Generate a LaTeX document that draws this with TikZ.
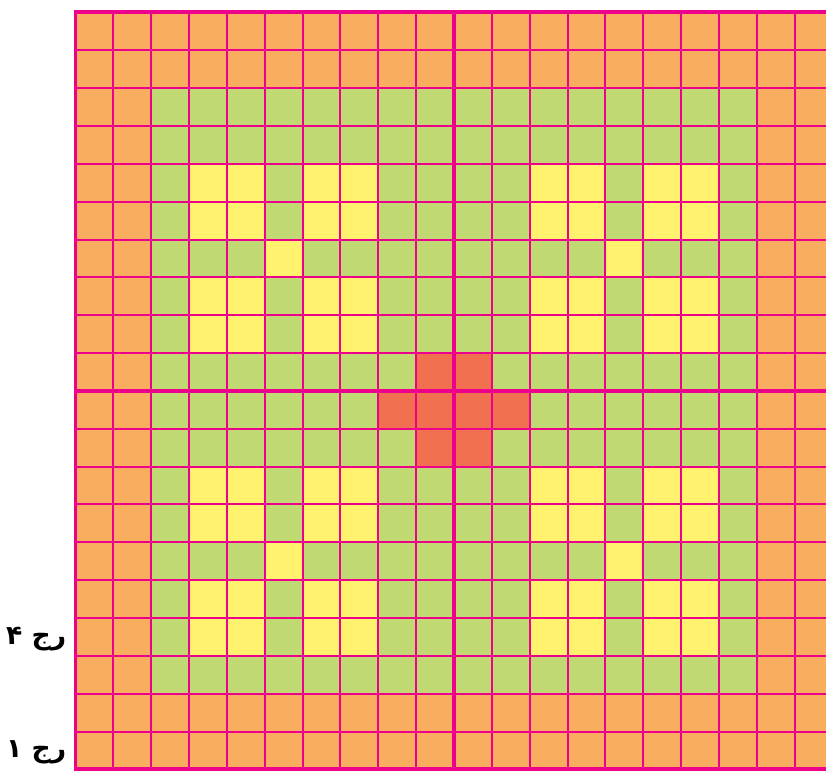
\documentclass[tikz,border=0pt]{standalone}
\usepackage{fontspec}
\newfontfamily\arabicfont[Script=Arabic]{DejaVu Sans}
\TeXXeTstate=1
\usepackage{tikz}
\usetikzlibrary{positioning}
\definecolor{gridpink}{RGB}{236,0,140}
\definecolor{cellorange}{RGB}{249,173,94}
\definecolor{cellgreen}{RGB}{193,217,114}
\definecolor{cellyellow}{RGB}{255,242,110}
\definecolor{cellred}{RGB}{240,112,80}

\begin{document}
\begin{tikzpicture}[x=1cm, y=1cm,
    thinline/.style={draw=gridpink, line width=1.5pt},
    thickline/.style={draw=gridpink, line width=3pt},
    rowlabel/.style={anchor=east, inner sep=0pt, font=\arabicfont\bfseries\fontsize{20}{24}\selectfont}]
    \useasboundingbox (-1.995,-0.04) rectangle (19.83,20.33);
    \fill[cellorange] (0,0) rectangle (20,20);
    \fill[cellgreen] (2,2) rectangle (18,18);
    \foreach \x in {3,6,12,15} {
        \foreach \y in {3,6,11,14} {
            \fill[cellyellow] (\x,\y) rectangle ++(2,2);
        }
    }
    \foreach \x in {5,14} {
        \foreach \y in {5,13} {
            \fill[cellyellow] (\x,\y) rectangle ++(1,1);
        }
    }
    \fill[cellred] (9,8) rectangle (11,11);
    \fill[cellred] (8,9) rectangle (12,10);
    \draw[thinline] (0,0) grid (20,20);
    \draw[thickline] (0,0) rectangle (20,20);
    \draw[thickline] (10,0) -- (10,20);
    \draw[thickline] (0,10) -- (20,10);
    \node[rowlabel] (r4) at (-0.24,3.45) {\beginR رج ۴\endR};
    \node[rowlabel] (r1) at (-0.24,0.45) {\beginR رج ۱\endR};
\end{tikzpicture}
\end{document}
